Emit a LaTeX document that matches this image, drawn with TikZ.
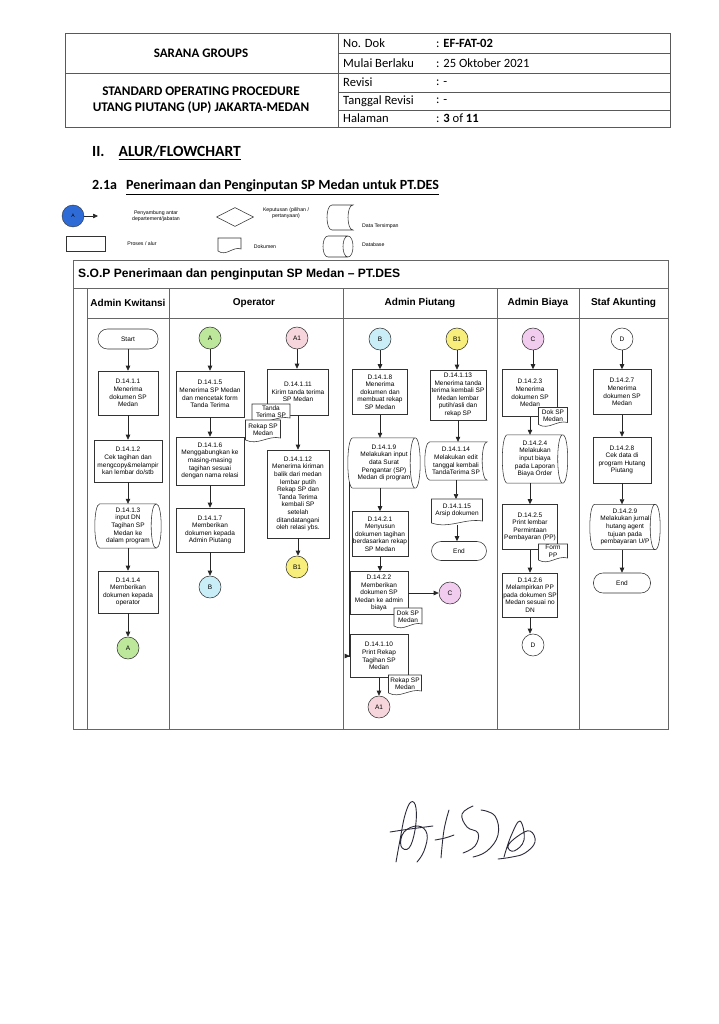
\documentclass[tikz,border=0pt]{standalone}
\usepackage{fontspec}
\setmainfont{Liberation Sans}
\newfontfamily\carl{Carlito}
\usetikzlibrary{arrows.meta,calc,shapes.geometric}
\newcommand\fs{\fontsize{6.5}{7.6}\selectfont}
\newcommand\lgf{\fontsize{5.2}{6}\selectfont}
\definecolor{cgreen}{HTML}{BDE79A}
\definecolor{cblue}{HTML}{C9EEF8}
\definecolor{cpink}{HTML}{F6D6DC}
\definecolor{cyellow}{HTML}{F8EE7C}
\definecolor{cmag}{HTML}{F2CCEE}
\definecolor{lgblue}{HTML}{2F6BD6}
\definecolor{sigc}{HTML}{2A2A3A}
\newcommand\storedpath[1]{\draw[shp] ([xshift=5pt]#1.north west) .. controls ([xshift=-1.67pt]#1.north west) and ([xshift=-1.67pt]#1.south west) .. ([xshift=5pt]#1.south west) -- (#1.south east) .. controls ([xshift=-6.67pt]#1.south east) and ([xshift=-6.67pt]#1.north east) .. (#1.north east) -- cycle;}
\newcommand\cylpath[1]{\draw[shp] ([xshift=5pt]#1.north west) .. controls ([xshift=-1.67pt]#1.north west) and ([xshift=-1.67pt]#1.south west) .. ([xshift=5pt]#1.south west) -- ([xshift=-5pt]#1.south east) .. controls ([xshift=1.67pt]#1.south east) and ([xshift=1.67pt]#1.north east) .. ([xshift=-5pt]#1.north east) -- cycle ([xshift=-5pt]#1.north east) .. controls ([xshift=-11.67pt]#1.north east) and ([xshift=-11.67pt]#1.south east) .. ([xshift=-5pt]#1.south east);}
\newcommand\docpath[1]{\draw[shp,fill=white] (#1.north west) -- (#1.north east) -- ([yshift=4pt]#1.south east) .. controls ($(#1.south east)!0.35!(#1.south west)+(0,-7)$) and ($(#1.south east)!0.65!(#1.south west)+(0,4)$) .. ([yshift=2pt]#1.south west) -- cycle;}
\newcommand\docnode[6]{\node[hole, sz={#4}{#5}] (#1) at (#2,#3) {};\docpath{#1}\node[txt] (#1t) at ([yshift=1.5pt]#1.center) {#6};}
\newcommand\vflow[2]{\draw[flow] (#1.south) -- (#1.south |- #2.north);}
\begin{document}
\begin{tikzpicture}[x=1pt,y=-1pt,
 tbl/.style={draw=black!65, line width=0.7pt},
 lane/.style={draw=black!60, line width=0.8pt},
 sz/.style 2 args={minimum width=#1pt, minimum height=#2pt},
 box/.style={draw=black!80, line width=0.55pt, fill=white, align=center, font=\fs, inner sep=1pt},
 term/.style={box, rounded corners=9.5pt},
 conn/.style={circle, draw=black!80, line width=0.55pt, minimum size=22pt, inner sep=0pt, font=\fontsize{6.5}{7}\selectfont},
 txt/.style={align=center, font=\fs, inner sep=0pt},
 hole/.style={inner sep=0pt, outer sep=0pt, draw=none},
 shp/.style={draw=black!80, line width=0.55pt},
 flow/.style={draw=black!85, line width=0.6pt, -{Triangle[length=5pt,width=4.5pt]}},
 lanehead/.style={font=\bfseries\fontsize{10}{12}\selectfont},
 hdr/.style={font=\carl\fontsize{12.6}{14}\selectfont, anchor=west, inner sep=0pt},
 sig/.style={draw=sigc, line width=0.9pt, line cap=round, line join=round}]
\useasboundingbox[fill=white] (0,0) rectangle (719,1024);
% header table
\draw[tbl] (65,33) rectangle (670,127);
\draw[tbl] (338,33) -- (338,127);
\draw[tbl] (65,73) -- (338,73);
\foreach \y in {53,73,92,110} \draw[tbl] (338,\y) -- (670,\y);
\node[font=\carl\bfseries\fontsize{13}{14}\selectfont] (sarana) at (201,53) {SARANA GROUPS};
\node[font=\carl\bfseries\fontsize{13.2}{16}\selectfont, align=center] (sopname) at (201,100) {STANDARD OPERATING PROCEDURE\\UTANG PIUTANG (UP) JAKARTA-MEDAN};
\node[hdr] (l1) at (343,43) {No. Dok};
\node[hdr] (l2) at (343,63) {Mulai Berlaku};
\node[hdr] (l3) at (343,82.5) {Revisi};
\node[hdr] (l4) at (343,101) {Tanggal Revisi};
\node[hdr] (l5) at (343,118.5) {Halaman};
\node[hdr] (v1) at (436,43) {: \textbf{EF-FAT-02}};
\node[hdr] (v2) at (436,63) {: 25 Oktober 2021};
\node[hdr] (v3) at (436,82.5) {: -};
\node[hdr] (v4) at (436,101) {: -};
\node[hdr] (v5) at (436,118.5) {: \textbf{3} of \textbf{11}};
% headings
\node[anchor=base west, inner sep=0pt, font=\carl\bfseries\fontsize{15.5}{17}\selectfont] (h2) at (92,157) {II.\hspace{14pt}\underline{ALUR/FLOWCHART}};
\node[anchor=base west, inner sep=0pt, font=\carl\bfseries\fontsize{14}{16}\selectfont] (h21) at (92,190) {2.1a\hspace{9pt}\underline{Penerimaan dan Penginputan SP Medan untuk PT.DES}};
% legend
\node[circle, draw=black!80, fill=lgblue, minimum size=22pt, inner sep=0pt, font=\fontsize{5}{6}\selectfont] (lgA) at (73,216) {A};
\coordinate (lgAend) at (98,216);
\draw[flow] (lgA) -- (lgAend);
\node[txt, font=\lgf] (lgAt) at (156,216) {Penyambung antar\\departement/jabatan};
\node[diamond, aspect=2, draw=black!80, line width=0.55pt, minimum width=37pt, minimum height=19pt, inner sep=0pt] (lgdia) at (235,217) {};
\node[txt, font=\lgf] (lgdiat) at (286,213) {Keputusan (pilihan /\\pertanyaan)};
\node[hole, sz={26}{25}] (lgsd) at (340,217.5) {};
\storedpath{lgsd}
\node[anchor=west, inner sep=0pt, font=\lgf] (lgsdt) at (362,226) {Data Tersimpan};
\node[draw=black!80, line width=0.55pt, sz={39}{15}] (lgrect) at (86,243.5) {};
\node[font=\lgf, inner sep=0pt] (lgrt) at (142,244) {Proses / alur};
\node[hole, sz={23}{15}] (lgdoc) at (229.5,245.5) {};
\docpath{lgdoc}
\node[font=\lgf, inner sep=0pt] (lgdoct) at (265,247) {Dokumen};
\node[hole, sz={30}{21}] (lgdb) at (338,246.5) {};
\cylpath{lgdb}
\node[anchor=west, inner sep=0pt, font=\lgf] (lgdbt) at (362,245) {Database};
% frame
\draw[lane] (73,260) rectangle (668,729);
\draw[lane] (73,288) -- (668,288);
\draw[lane] (87,288) -- (87,729);
\draw[lane] (87,318) -- (668,318);
\foreach \x in {169,343,497,579} \draw[lane] (\x,288) -- (\x,729);
\node[anchor=west, inner sep=0pt, font=\bfseries\fontsize{12.1}{14}\selectfont] (title) at (78,274) {S.O.P Penerimaan dan penginputan SP Medan – PT.DES};
\node[lanehead] (hk) at (128,303) {Admin Kwitansi};
\node[lanehead] (ho) at (254,303) {Operator};
\node[lanehead] (hp) at (420,303) {Admin Piutang};
\node[lanehead] (hb) at (538,303) {Admin Biaya};
\node[lanehead] (hs) at (623.5,303) {Staf Akunting};
% Admin Kwitansi
\node[term, sz={60}{20}] (start) at (128,339) {Start};
\node[box, sz={60}{44}] (k11) at (128,393) {D.14.1.1\\Menerima\\dokumen SP\\Medan};
\node[box, sz={68}{42}] (k12) at (128,461) {D.14.1.2\\Cek tagihan dan\\mengcopy\&melampir\\kan lembar do/stb};
\node[txt, sz={66}{44}] (k13) at (128,526) {D.14.1.3\\input DN\\Tagihan SP\\Medan ke\\dalam program};
\cylpath{k13}
\node[box, sz={60}{42}] (k14) at (128,592) {D.14.1.4\\Memberikan\\dokumen kepada\\operator};
\node[conn, fill=cgreen] (kA) at (128,648) {A};
% Operator
\node[conn, fill=cgreen] (oA) at (210,338) {A};
\node[box, sz={68}{46}] (o15) at (210,394) {D.14.1.5\\Menerima SP Medan\\dan mencetak form\\Tanda Terima};
\node[box, sz={68}{48}] (o16) at (210,461) {D.14.1.6\\Menggabungkan ke\\masing-masing\\tagihan sesuai\\dengan nama relasi};
\node[box, sz={68}{44}] (o17) at (210,530) {D.14.1.7\\Memberikan\\dokumen kepada\\Admin Piutang};
\node[conn, fill=cblue] (oB) at (210,587) {B};
\node[conn, fill=cpink] (oA1) at (297,338) {A1};
\node[box, sz={61}{46}] (o111) at (298,392) {D.14.1.11\\Kirim tanda terima\\SP Medan};
\docnode{dtt}{271}{413}{38}{18}{Tanda\\Terima SP}
\docnode{drk1}{263}{431}{35}{22}{Rekap SP\\Medan}
\node[box, sz={62}{88}] (o112) at (298,494) {D.14.1.12\\Menerima kiriman\\balik dari medan\\lembar putih\\Rekap SP dan\\Tanda Terima\\kembali SP\\setelah\\ditandatangani\\oleh relasi ybs.};
\node[conn, fill=cyellow] (oB1) at (297,567) {B1};
% Admin Piutang
\node[conn, fill=cblue] (pB) at (380,339) {B};
\node[box, sz={55}{45}] (p18) at (380,392) {D.14.1.8\\Menerima\\dokumen dan\\membuat rekap\\SP Medan};
\node[txt, sz={72}{50}] (p19) at (384,463) {D.14.1.9\\Melakukan input\\data Surat\\Pengantar (SP)\\Medan di program};
\cylpath{p19}
\node[box, sz={56}{45}] (p21) at (380,534) {D.14.2.1\\Menyusun\\dokumen tagihan\\berdasarkan rekap\\SP Medan};
\node[box, sz={58}{43}] (p22) at (379,593) {D.14.2.2\\Memberikan\\dokumen SP\\Medan ke admin\\biaya};
\node[conn, fill=cmag] (pC) at (450,593) {C};
\docnode{dk1}{408}{618}{28}{20}{Dok SP\\Medan}
\node[box, sz={58}{43}] (p110) at (379,656) {D.14.1.10\\Print Rekap\\Tagihan SP\\Medan};
\node[conn, fill=cpink] (pA1) at (379,707) {A1};
\docnode{drk2}{405}{685}{33}{20}{Rekap SP\\Medan}
\node[conn, fill=cyellow] (pB1) at (457,339) {B1};
\node[box, sz={56}{50}] (p113) at (458,395) {D.14.1.13\\Menerima tanda\\terima kembali SP\\Medan lembar\\putih/asli dan\\rekap SP};
\node[txt, sz={62}{38}] (p114) at (456,461) {D.14.1.14\\Melakukan edit\\tanggal kembali\\TandaTerima SP};
\storedpath{p114}
\docnode{p115}{457}{512}{51}{26}{D.14.1.15\\Arsip dokumen}
\node[term, sz={55}{19}] (pEnd) at (459,551) {End};
% Admin Biaya
\node[conn, fill=cmag] (bC) at (533,339) {C};
\node[box, sz={55}{47}] (b23) at (530,393) {D.14.2.3\\Menerima\\dokumen SP\\Medan};
\node[txt, sz={65}{48}] (b24) at (535,459) {D.14.2.4\\Melakukan\\input biaya\\pada Laporan\\Biaya Order};
\cylpath{b24}
\node[box, sz={55}{45}] (b25) at (530,527) {D.14.2.5\\Print lembar\\Permintaan\\Pembayaran (PP)};
\node[box, sz={55}{44}] (b26) at (530,595) {D.14.2.6\\Melampirkan PP\\pada dokumen SP\\Medan sesuai no\\DN};
\node[conn, fill=white] (bD) at (533,645) {D};
\docnode{dk2}{553}{417}{29}{19}{Dok SP\\Medan}
\docnode{dpp}{553}{553}{29}{18}{Form\\PP}
% Staf Akunting
\node[conn, fill=white] (sD) at (622,339) {D};
\node[box, sz={58}{45}] (s27) at (622,392) {D.14.2.7\\Menerima\\dokumen SP\\Medan};
\node[box, sz={58}{46}] (s28) at (622,460) {D.14.2.8\\Cek data di\\program Hutang\\Piutang};
\node[txt, sz={70}{45}] (s29) at (625,527) {D.14.2.9\\Melakukan jurnal\\hutang agent\\tujuan pada\\pembayaran U/P};
\cylpath{s29}
\node[term, sz={57}{20}] (sEnd) at (622,583) {End};
% flows
\vflow{start}{k11} \vflow{k11}{k12} \vflow{k12}{k13} \vflow{k13}{k14} \vflow{k14}{kA}
\vflow{oA}{o15} \vflow{o15}{o16} \vflow{o16}{o17} \vflow{o17}{oB}
\vflow{oA1}{o111} \vflow{o111}{o112} \vflow{o112}{oB1}
\vflow{pB}{p18} \vflow{p18}{p19}
\draw[flow] (p21.north |- p19.south) -- (p21.north);
\vflow{p21}{p22}
\draw[flow] (p22.east) -- (pC.west);
\coordinate (p19l) at ($(p19.south west)+(1.5,-6)$);
\draw[flow] (p19l) |- (p110.west);
\vflow{p110}{pA1}
\vflow{pB1}{p113} \vflow{p113}{p114} \draw[flow] (p114.south) -- (p114.south |- p115.north); \vflow{p115}{pEnd}
\vflow{bC}{b23} \vflow{b23}{b24} \draw[flow] (b25.north |- b24.south) -- (b25.north); \vflow{b25}{b26} \vflow{b26}{bD}
\vflow{sD}{s27} \vflow{s27}{s28} \draw[flow] (s28.south) -- (s28.south |- s29.north); \draw[flow] (sEnd.north |- s29.south) -- (sEnd.north);
% signature
\draw[sig] plot[smooth, tension=0.7] coordinates {(396,862) (400,840) (405,815) (411,802) (416,808) (415,830) (409,848) (401,846) (404,832) (418,826) (427,834) (424,851) (417,862)};
\draw[sig] plot[smooth, tension=0.7] coordinates {(390,832) (410,829) (433,826)};
\draw[sig] plot[smooth, tension=0.7] coordinates {(449,810) (444,830) (441,858)};
\draw[sig] plot[smooth, tension=0.7] coordinates {(435,840) (445,838) (454,835)};
\draw[sig] plot[smooth, tension=0.7] coordinates {(473,806) (462,814) (467,827) (478,833) (475,846) (463,853)};
\draw[sig] plot[smooth, tension=0.7] coordinates {(481,810) (495,816) (498,835) (487,851) (473,857)};
\draw[sig] plot[smooth, tension=0.7] coordinates {(504,857) (511,836) (520,821) (524,840) (514,851) (508,846) (518,836) (530,831) (535,842) (525,853) (512,857) (498,859)};
\end{tikzpicture}
\end{document}
